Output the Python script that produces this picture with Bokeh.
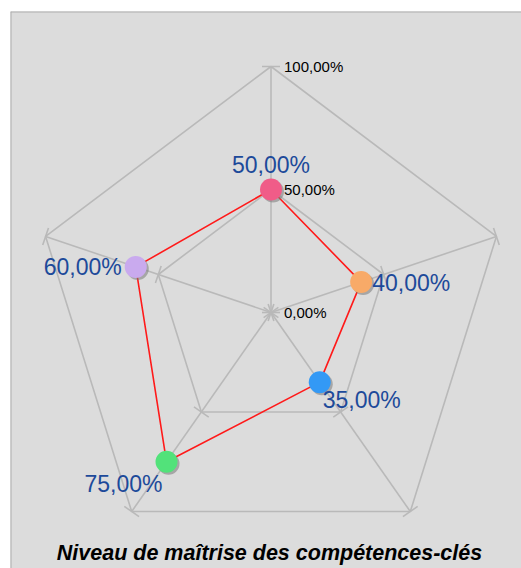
import numpy as np
from bokeh.plotting import figure
from bokeh.models import Range1d, Span
from bokeh.core.properties import value
from bokeh.embed import file_html
from bokeh.resources import INLINE

# ---- data ----
categories = ["Compétence 1", "Compétence 2", "Compétence 3", "Compétence 4", "Compétence 5"]
values = [50.0, 40.0, 35.0, 75.0, 60.0]            # percent, clockwise from top
point_colors = ["#f05c88", "#f8aa68", "#3399f5", "#52e27a", "#c9aaee"]
grid_levels = [0.0, 50.0, 100.0]
grid_labels = ["0,00%", "50,00%", "100,00%"]
title_text = "Niveau de maîtrise des compétences-clés"

def fmt(v):
    return f"{v:.2f}".replace(".", ",") + "%"

# ---- geometry (picture pixels -> data) ----
CX, CY = 270.5, 312.0      # centre in picture pixels
SX, SY = 237.0, 246.0      # pixels per 100%
FL, FT, FR, FB = 10, 11, 521, 568  # frame edges in picture pixels

n = len(categories)
ang = np.pi / 2 - np.arange(n) * 2 * np.pi / n
ux, uy = np.cos(ang), np.sin(ang)

p = figure(width=FR, height=FB, output_backend="svg",
           toolbar_location=None, x_axis_type=None, y_axis_type=None,
           min_border_left=FL, min_border_top=FT, min_border_right=0, min_border_bottom=0,
           x_range=Range1d((FL - CX) / SX, (FR - CX) / SX),
           y_range=Range1d((CY - FB) / SY, (CY - FT) / SY))
p.grid.visible = False
p.background_fill_color = "#dcdcdc"
p.border_fill_color = "white"
p.outline_line_color = None
# panel border only on the left and top (panel is cut at right/bottom)
p.add_layout(Span(location=p.x_range.start, dimension="height", line_color="#aeaeae", line_width=2))
p.add_layout(Span(location=p.y_range.end, dimension="width", line_color="#aeaeae", line_width=2))

grid_col = "#b9b9b9"
# pentagon grid lines
for lv in grid_levels[1:]:
    r = lv / 100
    p.line(list(r * ux) + [r * ux[0]], list(r * uy) + [r * uy[0]],
           line_color=grid_col, line_width=1.6)
# axes
p.segment(x0=[0] * n, y0=[0] * n, x1=list(ux), y1=list(uy), line_color=grid_col, line_width=1.6)
# ticks perpendicular (in screen space) to each axis
tick_half = 9.0
x0s, y0s, x1s, y1s = [], [], [], []
for i in range(n):
    dx, dy = ux[i] * SX, uy[i] * SY
    L = np.hypot(dx, dy)
    px_, py_ = -dy / L, dx / L
    for lv in grid_levels:
        r = lv / 100
        bx, by = r * ux[i], r * uy[i]
        x0s.append(bx - px_ * tick_half / SX); y0s.append(by - py_ * tick_half / SY)
        x1s.append(bx + px_ * tick_half / SX); y1s.append(by + py_ * tick_half / SY)
p.segment(x0=x0s, y0=y0s, x1=x1s, y1=y1s, line_color=grid_col, line_width=1.6)

# axis tick labels on the top axis
p.text(x=[0] * len(grid_levels), y=[lv / 100 for lv in grid_levels], text=grid_labels,
       x_offset=13, text_align="left", text_baseline="middle",
       text_font=value("Liberation Sans"), text_font_size="15px", text_color="black")

# data polygon
r = np.array(values) / 100
xs, ys = r * ux, r * uy
p.line(list(xs) + [xs[0]], list(ys) + [ys[0]], line_color="#ff1a1a", line_width=1.6)

# marker shadow + markers
p.scatter(xs + 2 / SX, ys - 2 / SY, size=22, fill_color="#7a7a7a", fill_alpha=0.55, line_color=None)
p.scatter(xs, ys, size=22, fill_color=point_colors, line_color=None)

# value labels
lab_dx = [0, 11, 3, -4, -14]
lab_dy = [-25, 1, 18, 22, 0]
lab_align = ["center", "left", "left", "right", "right"]
p.text(x=list(xs), y=list(ys), text=[fmt(v) for v in values],
       x_offset=lab_dx, y_offset=lab_dy, text_align=lab_align, text_baseline="middle",
       text_font=value("Liberation Sans"), text_font_size="23px", text_color="#1d4a9a")

# title
p.text(x=[(269 - CX) / SX], y=[(CY - 552) / SY], text=[title_text],
       text_align="center", text_baseline="middle",
       text_font=value("Liberation Sans"), text_font_size="21.5px",
       text_font_style="bold italic", text_color="black")

open("out.html", "w").write(file_html(p, INLINE))
